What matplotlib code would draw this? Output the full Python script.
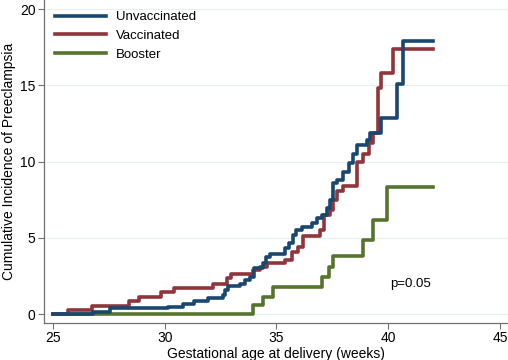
import matplotlib
matplotlib.use("Agg")
import matplotlib.pyplot as plt

plt.rcParams['font.family'] = ['Liberation Sans', 'DejaVu Sans']

# Step curves (weeks, cumulative incidence)
unvacc_weeks = [25.0, 26.8, 27.55, 30.13, 30.83, 31.31, 31.95, 32.59, 32.7, 32.85,
                33.37, 33.59, 33.81, 33.99, 34.38, 34.53, 34.71, 35.38, 35.57, 35.72,
                35.87, 36.13, 36.57, 36.83, 37.02, 37.25, 37.39, 37.51, 37.69, 37.99,
                38.26, 38.41, 38.59, 39.06, 39.18, 39.66, 40.38, 40.67, 42.0]
unvacc_inc = [0.0, 0.15, 0.37, 0.48, 0.66, 0.83, 1.03, 1.25, 1.57, 1.84,
              2.0, 2.23, 2.45, 3.0, 3.36, 3.76, 3.93, 4.3, 4.64, 5.18,
              5.5, 5.72, 5.95, 6.27, 6.5, 6.93, 7.48, 8.57, 8.79, 9.33,
              9.88, 10.5, 11.08, 11.4, 11.85, 12.84, 15.1, 17.9, 17.9]

vacc_weeks = [25.0, 25.69, 26.73, 28.42, 28.86, 29.82, 30.41, 32.14, 32.8, 32.95,
              33.96, 34.26, 34.56, 35.38, 35.68, 35.98, 36.2, 36.95, 37.13, 37.39,
              37.54, 37.72, 37.96, 38.59, 38.86, 39.15, 39.3, 39.55, 39.7, 40.23, 42.0]
vacc_inc = [0.0, 0.26, 0.52, 0.83, 1.13, 1.42, 1.68, 2.0, 2.33, 2.65,
            2.89, 3.1, 3.32, 3.54, 4.09, 4.41, 5.11, 5.5, 6.5, 6.8,
            7.5, 8.1, 8.4, 10.0, 10.5, 11.2, 11.9, 14.8, 15.84, 17.36, 17.36]

booster_weeks = [25.0, 33.96, 34.41, 34.86, 37.02, 37.37, 37.54, 38.88, 39.33, 39.93, 42.0]
booster_inc = [0.0, 0.59, 1.14, 1.8, 2.45, 3.1, 3.8, 4.85, 6.16, 8.35, 8.35]

x_ticks = [25, 30, 35, 40, 45]
y_ticks = [0, 5, 10, 15, 20]

fig = plt.figure(figsize=(5.08, 3.6), dpi=100)
ax = fig.add_axes([44 / 508, 37 / 360, 464 / 508, 323 / 360])

# light horizontal grid, Stata style
for y in y_ticks:
    ax.axhline(y, color='#e8eff1', lw=0.8, zorder=0)

ax.step(booster_weeks, booster_inc, where='post', color='#55752f', lw=2.6, label='Booster', zorder=2)
ax.step(vacc_weeks, vacc_inc, where='post', color='#90353b', lw=2.6, label='Vaccinated', zorder=3)
ax.step(unvacc_weeks, unvacc_inc, where='post', color='#1a476f', lw=2.6, label='Unvaccinated', zorder=4)

ax.text(40.08, 1.97, 'p=0.05', fontsize=9.5, va='center', ha='left')

ax.set_xlim(24.6, 45.36)
ax.set_ylim(-0.59, 20.6)
ax.set_xticks(x_ticks)
ax.set_yticks(y_ticks)
ax.tick_params(labelsize=10, color='#707070', length=4, width=0.8, pad=2)
for s in ['top', 'right']:
    ax.spines[s].set_visible(False)
for s in ['left', 'bottom']:
    ax.spines[s].set_color('#707070')
    ax.spines[s].set_linewidth(0.9)

ax.set_xlabel('Gestational age at delivery (weeks)', fontsize=10, labelpad=1)
ax.set_ylabel('Cumulative Incidence of Preeclampsia', fontsize=10, labelpad=3)

h, l = ax.get_legend_handles_labels()
order = [2, 1, 0]
ax.legend([h[i] for i in order], [l[i] for i in order], loc='upper left',
          bbox_to_anchor=(11 / 464, 1 - 11 / 323), frameon=False, fontsize=9.5,
          borderpad=0, borderaxespad=0, handlelength=3.9, handletextpad=0.7,
          labelspacing=0.5)

fig.savefig('out.png', dpi=100)
